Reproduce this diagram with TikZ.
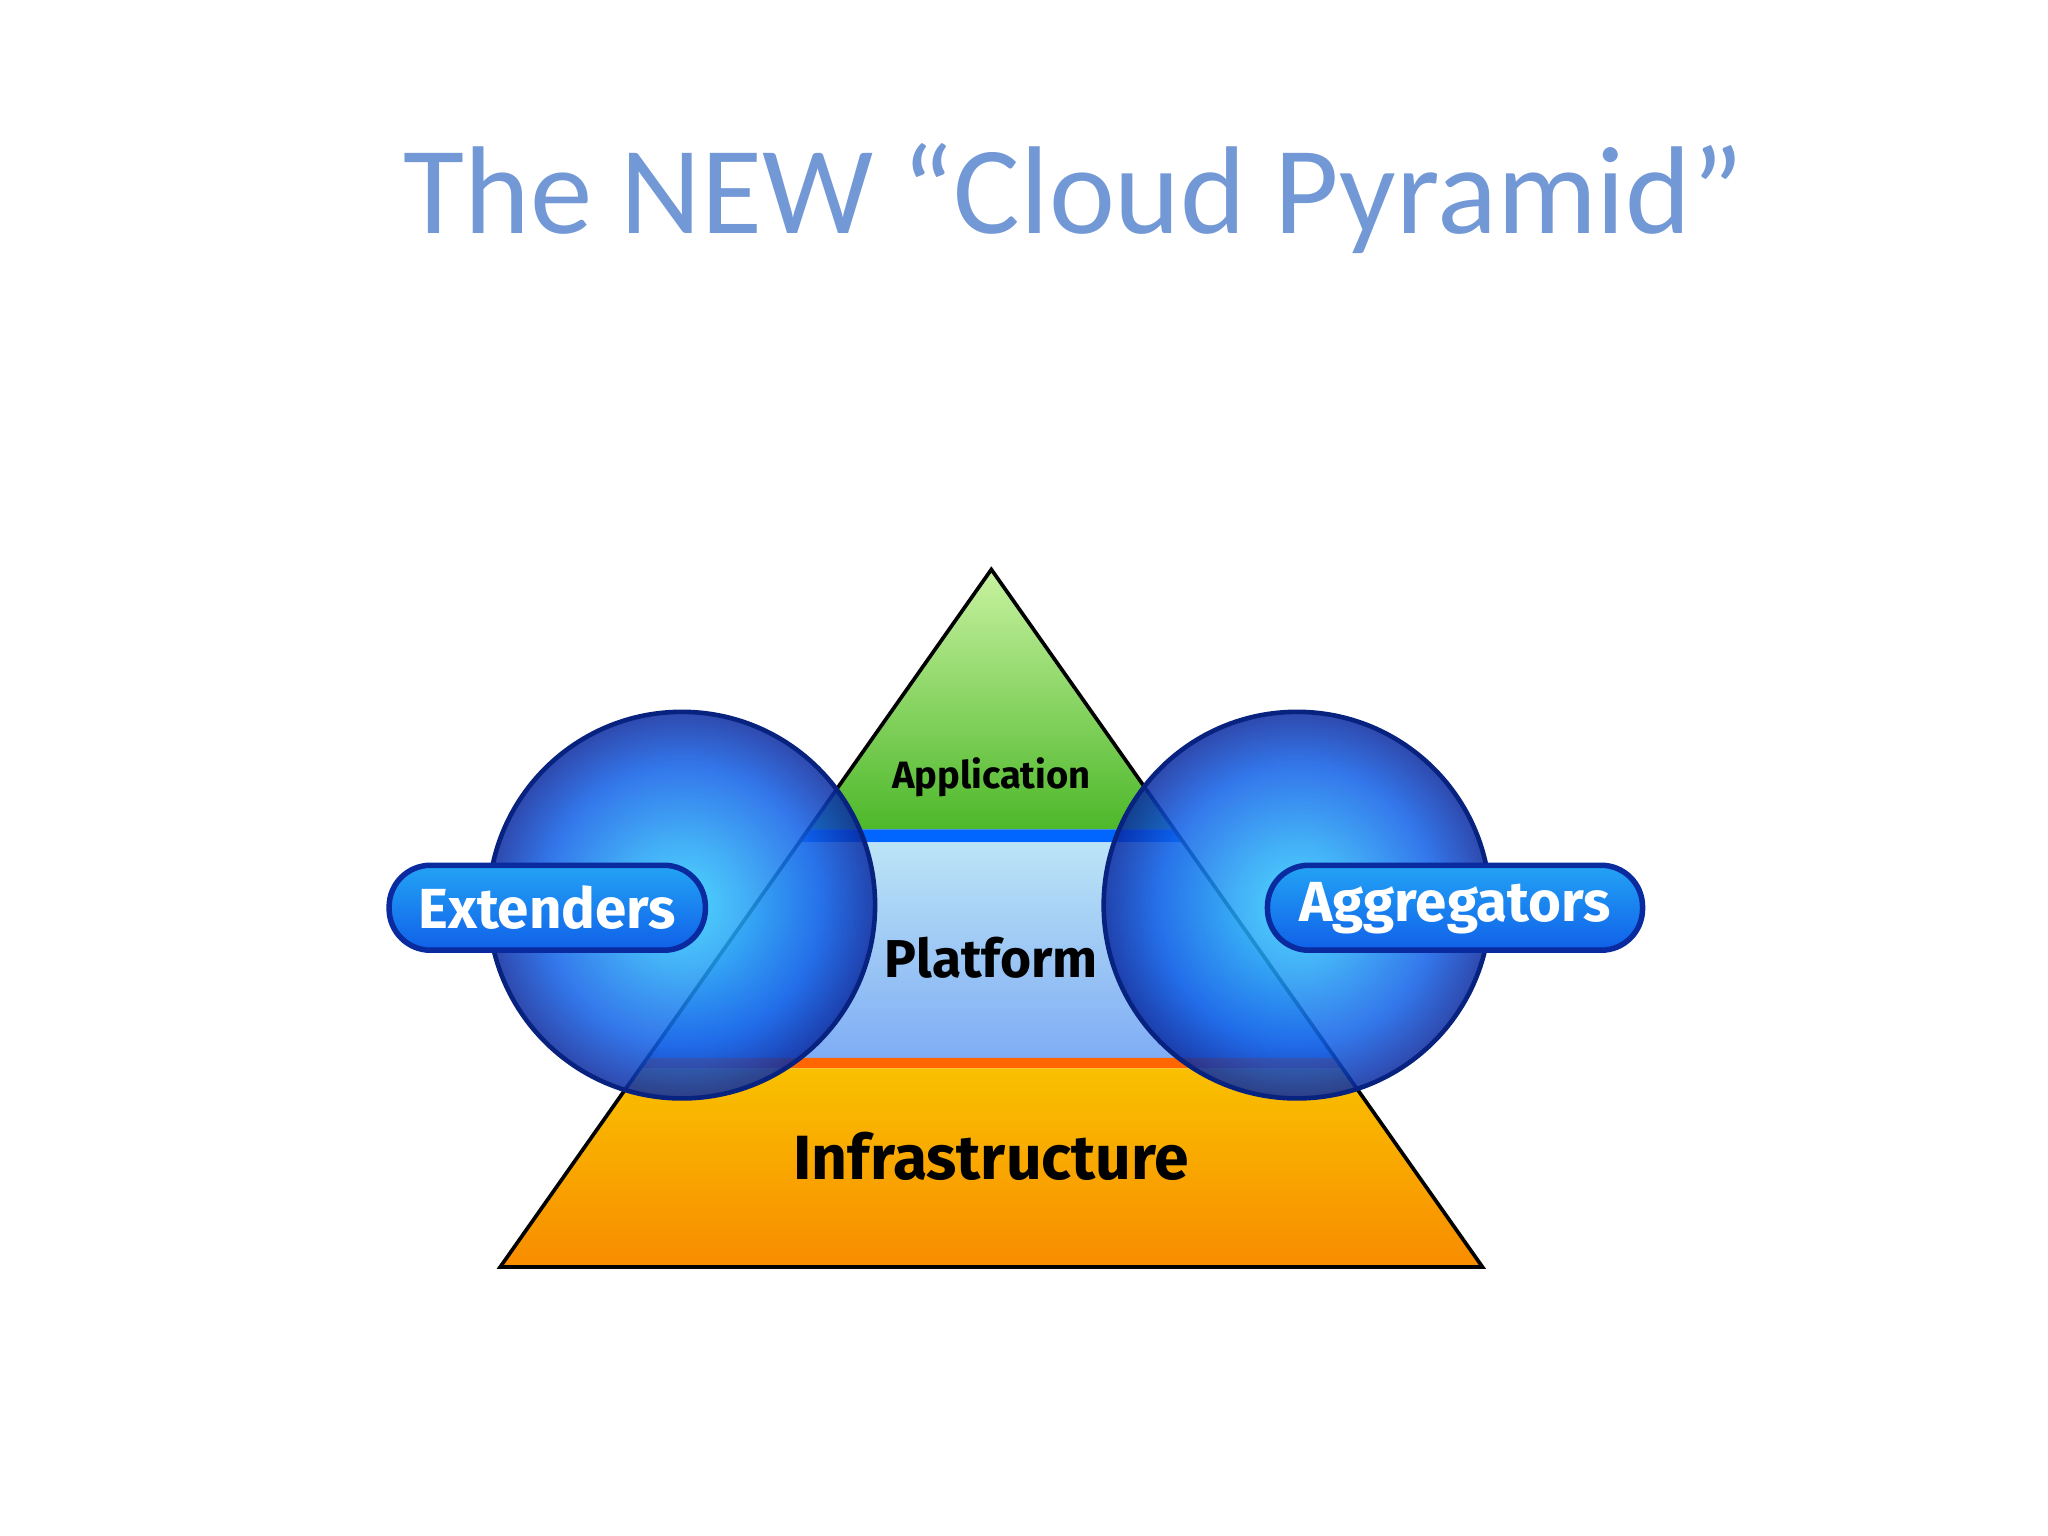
\documentclass[tikz,border=0pt]{standalone}
\usepackage{fontspec}
\setmainfont{Carlito}
\newfontfamily\lab{Fira Sans}
\definecolor{titleblue}{HTML}{7398D6}
\definecolor{gtop}{HTML}{C8F2A0}
\definecolor{gbot}{HTML}{4DB82A}
\definecolor{porange}{HTML}{F7A500}
\definecolor{pblue}{HTML}{9FD8F2}
\definecolor{ballc}{HTML}{30D0FF}
\definecolor{ballm}{HTML}{1060E8}
\definecolor{balld}{HTML}{0A2AA0}
\pgfdeclareradialshading{bluesph}{\pgfpoint{0bp}{0bp}}{color(0bp)=(ballc); color(8bp)=(ballc!60!ballm); color(18bp)=(ballm); color(25bp)=(balld); color(50bp)=(balld)}
\tikzset{
  lbltxt/.style={text=black},
  tagbox/.style={draw=balld, line width=1.2pt, rounded corners=9pt, top color=ballc!60!ballm, bottom color=ballm, minimum height=0.65cm, text=white, font=\lab\bfseries\fontsize{12.3}{14}\selectfont, inner xsep=6pt},
  ball/.style={shading=bluesph, opacity=0.85},
}
\begin{document}
\begin{tikzpicture}[x=0.01cm,y=-0.01cm]
\useasboundingbox (0,0) rectangle (1568,1176);
\fill[white] (0,0) rectangle (1568,1176);
\node[text=titleblue, font=\fontsize{27.2}{30}\selectfont] (title) at (822,152) {The NEW “Cloud Pyramid”};
% layers
\shade[top color=gtop, bottom color=gbot] (759,436) -- (899,635) -- (619,635) -- cycle;
\fill[blue!60!cyan] (619,635) -- (899,635) -- (906,645) -- (612,645) -- cycle;
\shade[top color=pblue!70!white, bottom color=pblue!80!blue] (612,645) -- (906,645) -- (1022,810) -- (496,810) -- cycle;
\fill[orange!80!red] (496,810) -- (1022,810) -- (1028,818) -- (490,818) -- cycle;
\shade[top color=porange!70!yellow, bottom color=porange!85!red] (490,818) -- (1028,818) -- (1135,970) -- (383,970) -- cycle;
\draw[line width=0.8pt] (759,436) -- (1135,970) -- (383,970) -- cycle;
\node[lbltxt, font=\lab\bfseries\fontsize{8.3}{10}\selectfont] (app) at (759,595) {Application};
\node[lbltxt, font=\lab\bfseries\fontsize{11.6}{14}\selectfont] (plat) at (759,733) {Platform};
\node[lbltxt, font=\lab\bfseries\fontsize{13.6}{16}\selectfont] (infra) at (759,885) {Infrastructure};
% balls
\shade[ball] (522,693) circle (148);
\shade[ball] (993,693) circle (148);
\draw[balld!80!black, line width=1pt] (522,693) circle (148) (993,693) circle (148);
% tags
\node[tagbox, minimum width=2.42cm] (ext) at (419,695) {Extenders};
\node[tagbox, minimum width=2.87cm] (agg) at (1114,695) {Aggregators};
\end{tikzpicture}
\end{document}
